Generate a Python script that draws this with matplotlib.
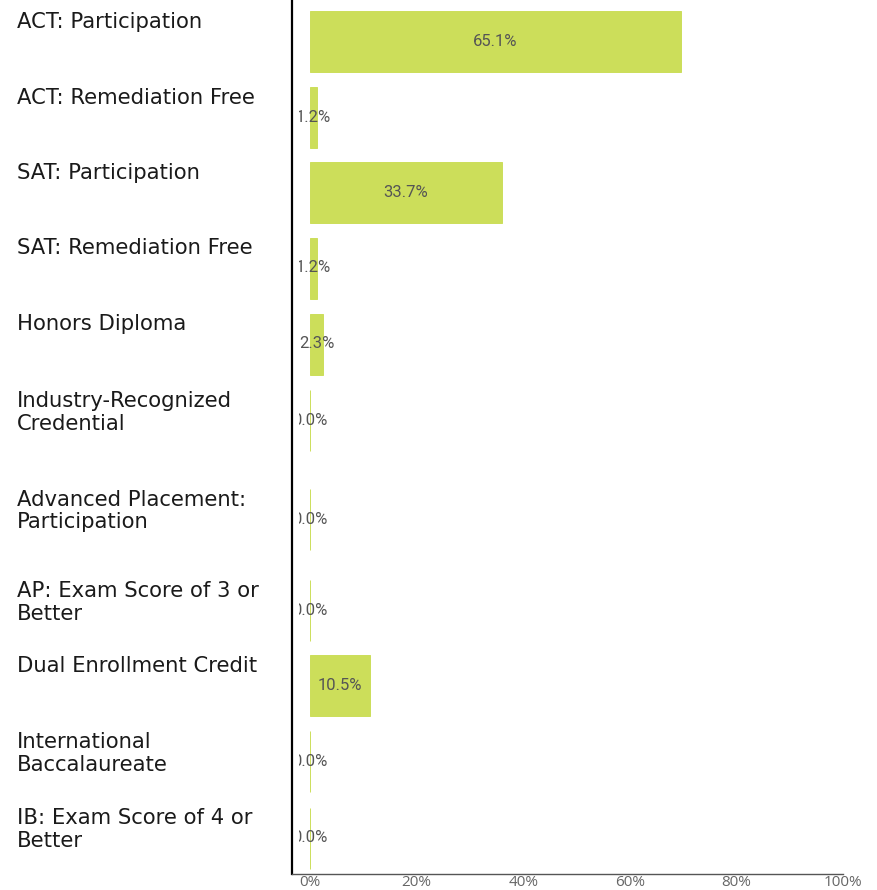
import matplotlib
matplotlib.use("Agg")
import matplotlib.pyplot as plt
import matplotlib.transforms as mtransforms
from matplotlib.transforms import Bbox, TransformedBbox

# ---- data ----
categories = [
    "ACT: Participation",
    "ACT: Remediation Free",
    "SAT: Participation",
    "SAT: Remediation Free",
    "Honors Diploma",
    "Industry-Recognized\nCredential",
    "Advanced Placement:\nParticipation",
    "AP: Exam Score of 3 or\nBetter",
    "Dual Enrollment Credit",
    "International\nBaccalaureate",
    "IB: Exam Score of 4 or\nBetter",
]
values = [65.1, 1.2, 33.7, 1.2, 2.3, 0.0, 0.0, 0.0, 10.5, 0.0, 0.0]
tick_values = [0, 20, 40, 60, 80, 100]
tick_labels = ["0%", "20%", "40%", "60%", "80%", "100%"]

# ---- layout (pixel-based row centres within the plotting area) ----
row_centres = [41, 117.5, 192.5, 268, 344, 420.5, 519, 610.5, 685, 761.5, 838]
bar_h = 61
tick_scale = 1.068
bar_color = "#CCDE5A"

W, H = 877, 890
fig = plt.figure(figsize=(W / 100, H / 100), dpi=100)
ax = fig.add_axes([292 / W, (H - 874) / H, (843 - 292) / W, 874 / H])
ax.set_xlim(-3.16, 93.6)
ax.set_ylim(874, 0)

bars = ax.barh(row_centres, values, height=bar_h, color=bar_color,
               edgecolor=bar_color, linewidth=0.7)

clipbox = TransformedBbox(Bbox([[-1.85, 0], [200, 874]]), ax.transData)
for b, v in zip(bars, values):
    cx = b.get_x() + b.get_width() / 2
    cy = b.get_y() + b.get_height() / 2
    t = ax.text(cx, cy, f"{v:.1f}%", ha="center", va="center",
                fontsize=12, family=["Roboto", "DejaVu Sans"], color="#555555")
    t.set_clip_on(True)
    t.set_clip_box(clipbox)

# category labels, left aligned at the figure edge, top aligned with bar
trans = mtransforms.blended_transform_factory(fig.transFigure, ax.transData)
for lab, yc in zip(categories, row_centres):
    ax.text(17 / W, yc - bar_h / 2 + 1.0, lab, transform=trans, ha="left", va="top",
            fontsize=15.2, family="DejaVu Sans", color="#1a1a1a", linespacing=1.18,
            clip_on=False)

ax.set_xticks([t / tick_scale for t in tick_values])
ax.set_xticklabels(tick_labels, family=["Open Sans", "DejaVu Sans"], fontsize=11,
                   color="#666666")
ax.tick_params(axis="x", length=0, pad=1.0)
ax.set_yticks([])

for s in ["top", "right"]:
    ax.spines[s].set_visible(False)
ax.spines["left"].set_color("black")
ax.spines["left"].set_linewidth(1.6)
ax.spines["bottom"].set_color("#555555")
ax.spines["bottom"].set_linewidth(1.0)

fig.savefig("out.png", dpi=100)
